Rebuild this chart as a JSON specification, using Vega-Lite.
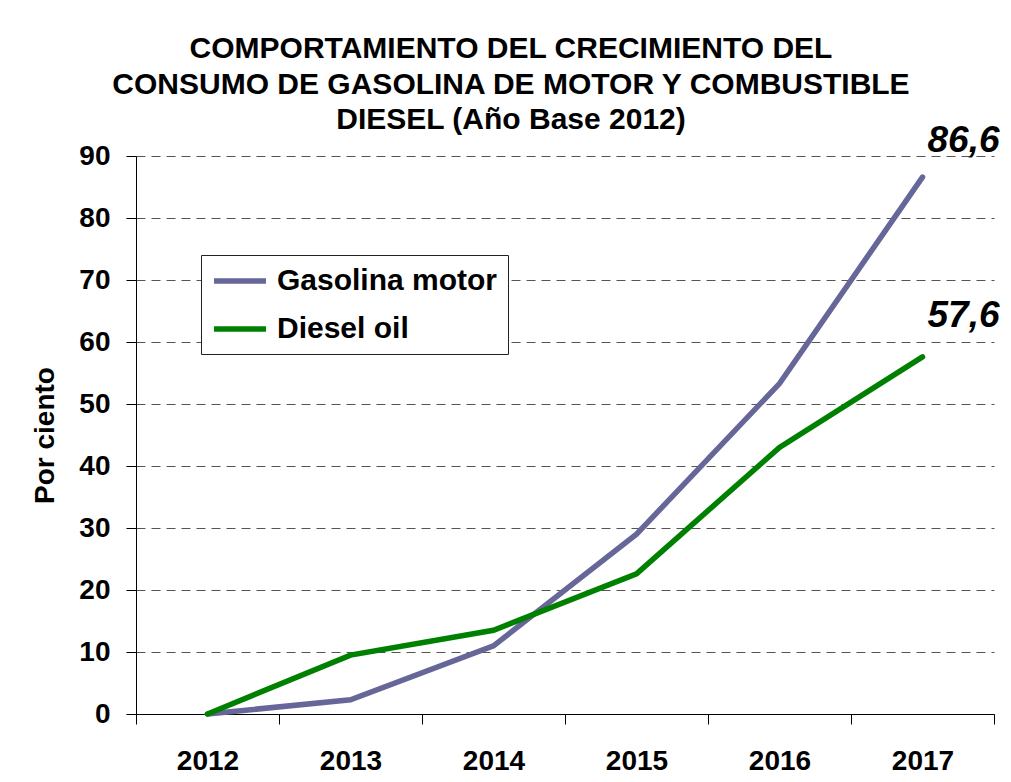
{
  "$schema": "https://vega.github.io/schema/vega-lite/v6.json",
  "autosize": {"type": "none"},
  "width": 858,
  "height": 558,
  "padding": {"left": 136, "top": 156, "right": 17, "bottom": 68},
  "background": "white",
  "title": {
    "text": ["COMPORTAMIENTO DEL CRECIMIENTO DEL", "CONSUMO DE GASOLINA DE MOTOR Y COMBUSTIBLE", "DIESEL (Año Base 2012)"],
    "font": "Liberation Sans",
    "fontSize": 30,
    "fontWeight": "bold",
    "color": "black",
    "lineHeight": 35.5,
    "anchor": "middle",
    "dx": -54,
    "offset": -13
  },
  "data": {
    "values": [
      {"year": "2012", "serie": "Gasolina motor", "value": 0},
      {"year": "2013", "serie": "Gasolina motor", "value": 2.3},
      {"year": "2014", "serie": "Gasolina motor", "value": 11.0},
      {"year": "2015", "serie": "Gasolina motor", "value": 29.0},
      {"year": "2016", "serie": "Gasolina motor", "value": 53.3},
      {"year": "2017", "serie": "Gasolina motor", "value": 86.6},
      {"year": "2012", "serie": "Diesel oil", "value": 0},
      {"year": "2013", "serie": "Diesel oil", "value": 9.5},
      {"year": "2014", "serie": "Diesel oil", "value": 13.5},
      {"year": "2015", "serie": "Diesel oil", "value": 22.6},
      {"year": "2016", "serie": "Diesel oil", "value": 43.0},
      {"year": "2017", "serie": "Diesel oil", "value": 57.6}
    ]
  },
  "encoding": {
    "x": {
      "field": "year",
      "type": "ordinal",
      "scale": {"type": "band", "paddingInner": 0, "paddingOuter": 0},
      "axis": {
        "title": null,
        "labelAngle": 0,
        "labelFont": "Liberation Sans",
        "labelFontSize": 28,
        "labelFontWeight": "bold",
        "labelColor": "black",
        "labelPadding": 23,
        "tickBand": "extent",
        "tickSize": 10,
        "tickColor": "black",
        "domainColor": "black",
        "grid": false
      }
    },
    "y": {
      "field": "value",
      "type": "quantitative",
      "scale": {"domain": [0, 90], "nice": false},
      "axis": {
        "title": "Por ciento",
        "titleFont": "Liberation Sans",
        "titleFontSize": 28,
        "titleFontWeight": "bold",
        "titleColor": "black",
        "titlePadding": 19,
        "values": [0, 10, 20, 30, 40, 50, 60, 70, 80, 90],
        "labelFont": "Liberation Sans",
        "labelFontSize": 28,
        "labelFontWeight": "bold",
        "labelColor": "black",
        "labelPadding": 16,
        "tickSize": 10,
        "tickColor": "black",
        "domainColor": "black",
        "grid": true,
        "gridColor": "#555555",
        "gridDash": [9, 6],
        "gridWidth": 1
      }
    }
  },
  "layer": [
    {
      "mark": {"type": "line", "strokeWidth": 5.5, "strokeCap": "round", "strokeJoin": "miter"},
      "encoding": {
        "color": {
          "field": "serie",
          "type": "nominal",
          "sort": ["Gasolina motor", "Diesel oil"],
          "scale": {"domain": ["Gasolina motor", "Diesel oil"], "range": ["#666699", "#008000"]},
          "legend": {
            "title": null,
            "orient": "none",
            "legendX": 65,
            "legendY": 99,
            "direction": "vertical",
            "symbolType": "M-1,0H3",
            "symbolSize": 676,
            "symbolStrokeWidth": 5.5,
            "symbolFillColor": "transparent",
            "labelFont": "Liberation Sans",
            "labelFontSize": 30,
            "labelFontWeight": "bold",
            "labelColor": "black",
            "labelLimit": 400,
            "labelOffset": 34,
            "rowPadding": 17,
            "padding": 10,
            "strokeColor": "#222222",
            "fillColor": "white"
          }
        }
      }
    },
    {
      "transform": [{"filter": "datum.year == '2017' && datum.serie == 'Gasolina motor'"}],
      "mark": {"type": "text", "font": "Liberation Sans", "fontSize": 37, "fontWeight": "bold", "fontStyle": "italic", "align": "center", "baseline": "alphabetic", "dx": 41, "dy": -25, "color": "black"},
      "encoding": {"text": {"field": "value", "type": "quantitative", "format": ".1f"}}
    },
    {
      "transform": [{"filter": "datum.year == '2017' && datum.serie == 'Diesel oil'"}],
      "mark": {"type": "text", "font": "Liberation Sans", "fontSize": 37, "fontWeight": "bold", "fontStyle": "italic", "align": "center", "baseline": "alphabetic", "dx": 41, "dy": -30, "color": "black"},
      "encoding": {"text": {"field": "value", "type": "quantitative", "format": ".1f"}}
    }
  ],
  "config": {
    "locale": {"number": {"decimal": ",", "thousands": ".", "grouping": [3], "currency": ["", ""]}},
    "view": {"stroke": null}
  }
}
